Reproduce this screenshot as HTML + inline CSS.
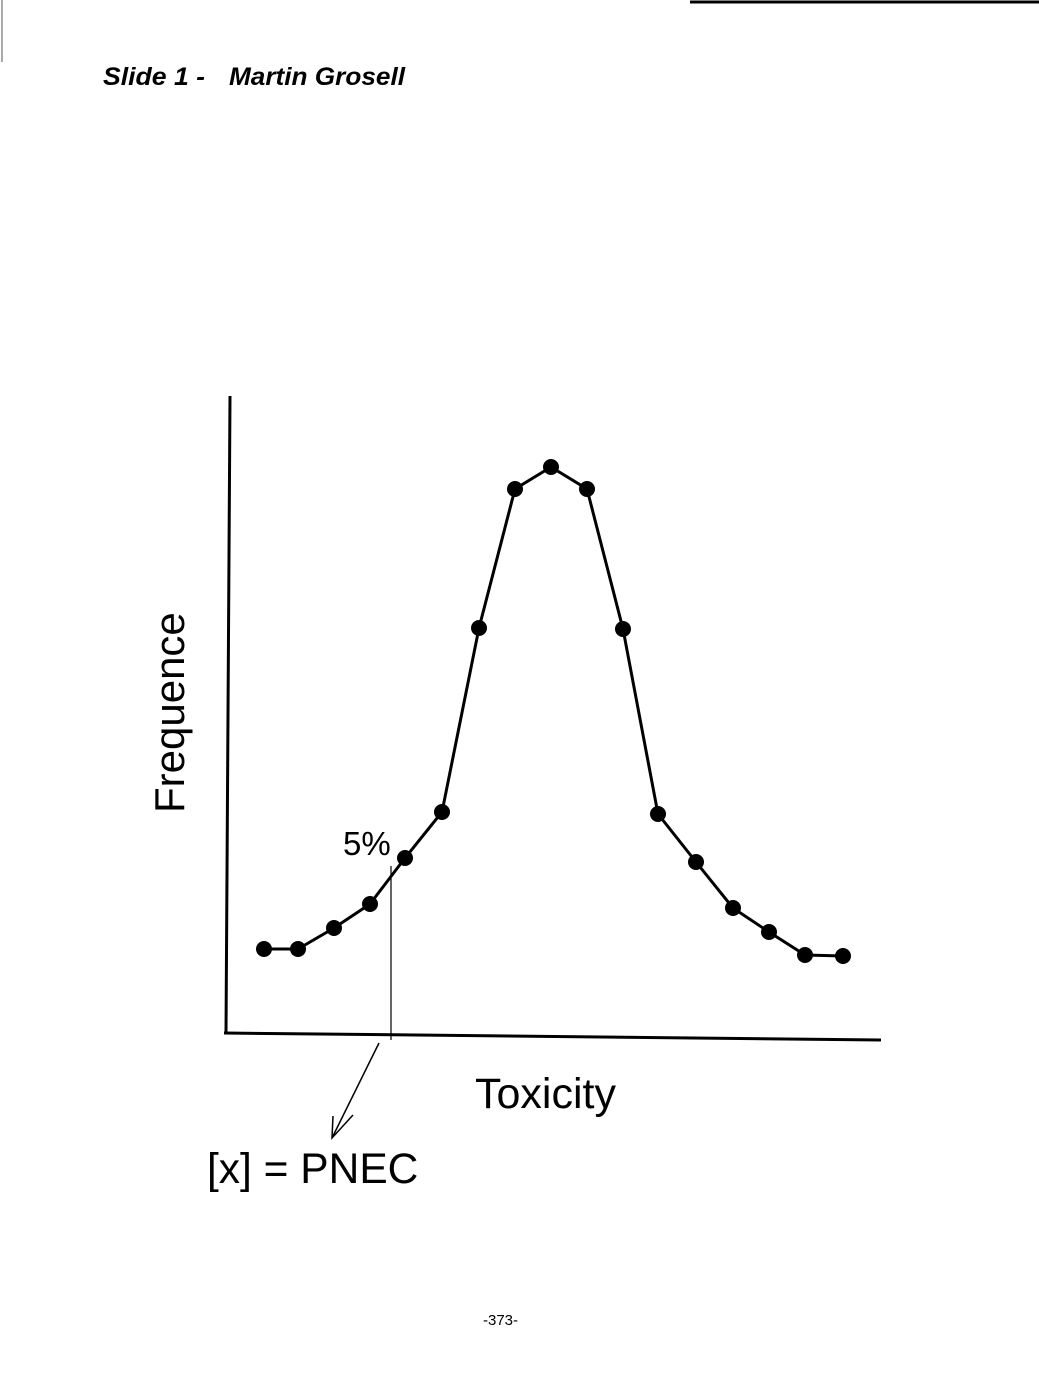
<!DOCTYPE html>
<html><head><meta charset="utf-8"><style>
html,body{margin:0;padding:0;background:#fff;}
body{width:1039px;height:1380px;position:relative;overflow:hidden;font-family:"Liberation Sans",Arial,sans-serif;}
</style></head><body>
<svg width="1039" height="1380" viewBox="0 0 1039 1380" style="position:absolute;left:0;top:0">
<line x1="690" y1="2" x2="1039" y2="2" stroke="#000" stroke-width="3"/>
<line x1="2" y1="0" x2="2" y2="62" stroke="#555" stroke-width="1"/>
<text x="103" y="85" font-family="Liberation Sans, Arial, sans-serif" font-weight="bold" font-style="italic" font-size="25" textLength="102" lengthAdjust="spacingAndGlyphs">Slide 1 -</text>
<text x="229" y="85" font-family="Liberation Sans, Arial, sans-serif" font-weight="bold" font-style="italic" font-size="25" textLength="176" lengthAdjust="spacingAndGlyphs">Martin Grosell</text>
<line x1="230" y1="396" x2="226" y2="1033" stroke="#000" stroke-width="3"/>
<line x1="224" y1="1033" x2="881" y2="1040" stroke="#000" stroke-width="3"/>
<line x1="391" y1="866" x2="391" y2="1040" stroke="#000" stroke-width="1.2"/>
<polyline fill="none" stroke="#000" stroke-width="1.5" points="379,1043 332,1138"/>
<polyline fill="none" stroke="#000" stroke-width="1.5" points="333,1116 332,1138 353,1115"/>
<polyline fill="none" stroke="#000" stroke-width="3" points="264,949 298,949 334,928 370,904 405,858 442,812 479,628 515,489 551,467 587,489 623,629 658,814 696,862 733,908 769,932 805,955 843,956"/>
<g fill="#000">
<circle cx="264" cy="949" r="8"/><circle cx="298" cy="949" r="8"/><circle cx="334" cy="928" r="8"/><circle cx="370" cy="904" r="8"/><circle cx="405" cy="858" r="8"/><circle cx="442" cy="812" r="8"/><circle cx="479" cy="628" r="8"/><circle cx="515" cy="489" r="8"/><circle cx="551" cy="467" r="8"/><circle cx="587" cy="489" r="8"/><circle cx="623" cy="629" r="8"/><circle cx="658" cy="814" r="8"/><circle cx="696" cy="862" r="8"/><circle cx="733" cy="908" r="8"/><circle cx="769" cy="932" r="8"/><circle cx="805" cy="955" r="8"/><circle cx="843" cy="956" r="8"/>
</g>
<text x="343" y="855" font-family="Liberation Sans, Arial, sans-serif" font-size="33">5%</text>
<text transform="translate(184,813) rotate(-90)" font-family="Liberation Sans, Arial, sans-serif" font-size="42">Frequence</text>
<text x="475" y="1108" font-family="Liberation Sans, Arial, sans-serif" font-size="43">Toxicity</text>
<text x="207" y="1183" font-family="Liberation Sans, Arial, sans-serif" font-size="42.5">[x] = PNEC</text>
<text x="483" y="1325" font-family="Liberation Sans, Arial, sans-serif" font-size="15">-373-</text>
</svg>
</body></html>
